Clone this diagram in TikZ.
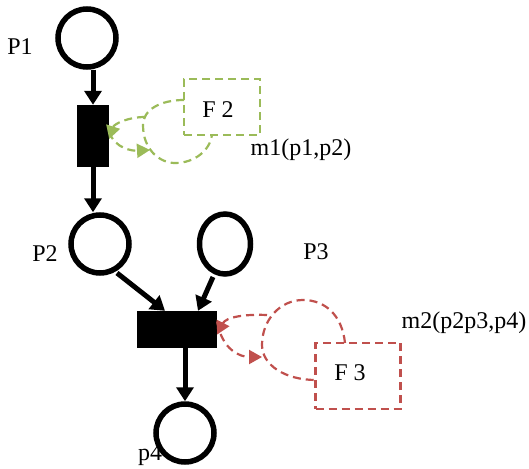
\documentclass[tikz,border=0pt]{standalone}
\usepackage{fontspec}
\setmainfont{Liberation Serif}
\usetikzlibrary{arrows.meta,shapes.geometric}
\definecolor{fgreen}{HTML}{9BBB59}
\definecolor{fred}{HTML}{C0504D}
\tikzset{
  place/.style={draw, ellipse, line width=5.5pt, minimum width=58pt, minimum height=58pt, inner sep=0pt},
  trans/.style={fill=black, draw=none, inner sep=0pt},
  arc/.style={line width=5pt, -{Triangle[length=14pt,width=17pt]}},
  fbox/.style={draw, line width=2.5pt, dash pattern=on 8pt off 5pt, inner sep=0pt},
  loopline/.style={line width=2.2pt, dash pattern=on 8pt off 5pt},
  looparrow/.style={line width=2.2pt, dash pattern=on 8pt off 5pt, -{Triangle[length=13pt,width=14pt]}},
  lbl/.style={font=\fontsize{24}{28}\selectfont, inner sep=0pt, text=black}
}
\begin{document}
\begin{tikzpicture}[x=1pt,y=-1pt]
\useasboundingbox (0,0) rectangle (529,468);
% places
\node[place] (P1) at (87,38) {};
\node[place] (P2) at (100,244) {};
\node[place, minimum width=51pt, minimum height=60pt] (P3) at (225,244) {};
\node[place] (P4) at (185,433) {};
% transitions
\node[trans, minimum width=32pt, minimum height=62pt] (T1) at (93,136) {};
\node[trans, minimum width=80pt, minimum height=37pt] (T2) at (177,329.5) {};
% labels
\node[lbl] (lP1) at (20,47) {P1};
\node[lbl] (lP2) at (45,254) {P2};
\node[lbl] (lP3) at (316,252) {P3};
\node[lbl] (lP4) at (150,455) {p4};
\node[lbl] (m1) at (301,150) {m1(p1,p2)};
\node[lbl] (m2) at (464,323) {m2(p2p3,p4)};
% function boxes
\node[fbox, draw=fgreen, minimum width=76pt, minimum height=56pt] (F2) at (222,107) {};
\node[lbl] (F2t) at (218,110) {F 2};
\node[fbox, draw=fred, minimum width=85pt, minimum height=66pt] (F3) at (358,376) {};
\node[lbl] (F3t) at (350,373) {F 3};
% arcs
\draw[arc] (T1.north |- P1.south) -- (T1.north);
\draw[arc] (T1.south) -- (T1.south |- P2.north);
\coordinate (t2a) at ([xshift=-12pt]T2.north);
\coordinate (t2b) at ([xshift=21pt]T2.north);
\draw[arc] (P2) ++(17,29) -- (t2a);
\draw[arc] (P3) ++(-12,33) -- (t2b);
\draw[arc] (T2.south -| P4) -- (P4.north);
% green loop
\coordinate (g1) at (184,100);
\coordinate (g2) at (212,135);
\coordinate (ga) at (145,117);
\coordinate (gb) at (150,150);
\draw[loopline, fgreen] (g1) .. controls (160,100) and (143,110) .. (143,125)
  .. controls (143,150) and (160,163) .. (175,163)
  .. controls (195,163) and (210,150) .. (g2);
\draw[looparrow, fgreen] (ga) .. controls (128,117) and (114,124) .. ([yshift=-3pt]T1.east);
\draw[looparrow, fgreen] ([yshift=4pt]T1.east) .. controls (115,149) and (133,151) .. (gb);
% red loop
\coordinate (r1) at (345,343);
\coordinate (r2) at (316,380);
\coordinate (ra) at (267,315);
\coordinate (rb) at (262,357);
\draw[loopline, fred] (r1) .. controls (342,315) and (325,300) .. (303,300)
  .. controls (280,300) and (262,320) .. (262,345)
  .. controls (262,365) and (285,380) .. (r2);
\draw[looparrow, fred] (ra) .. controls (245,314) and (226,317) .. ([yshift=-5pt]T2.east);
\draw[looparrow, fred] ([yshift=8pt]T2.east) .. controls (222,350) and (240,357) .. (rb);
\end{tikzpicture}
\end{document}
